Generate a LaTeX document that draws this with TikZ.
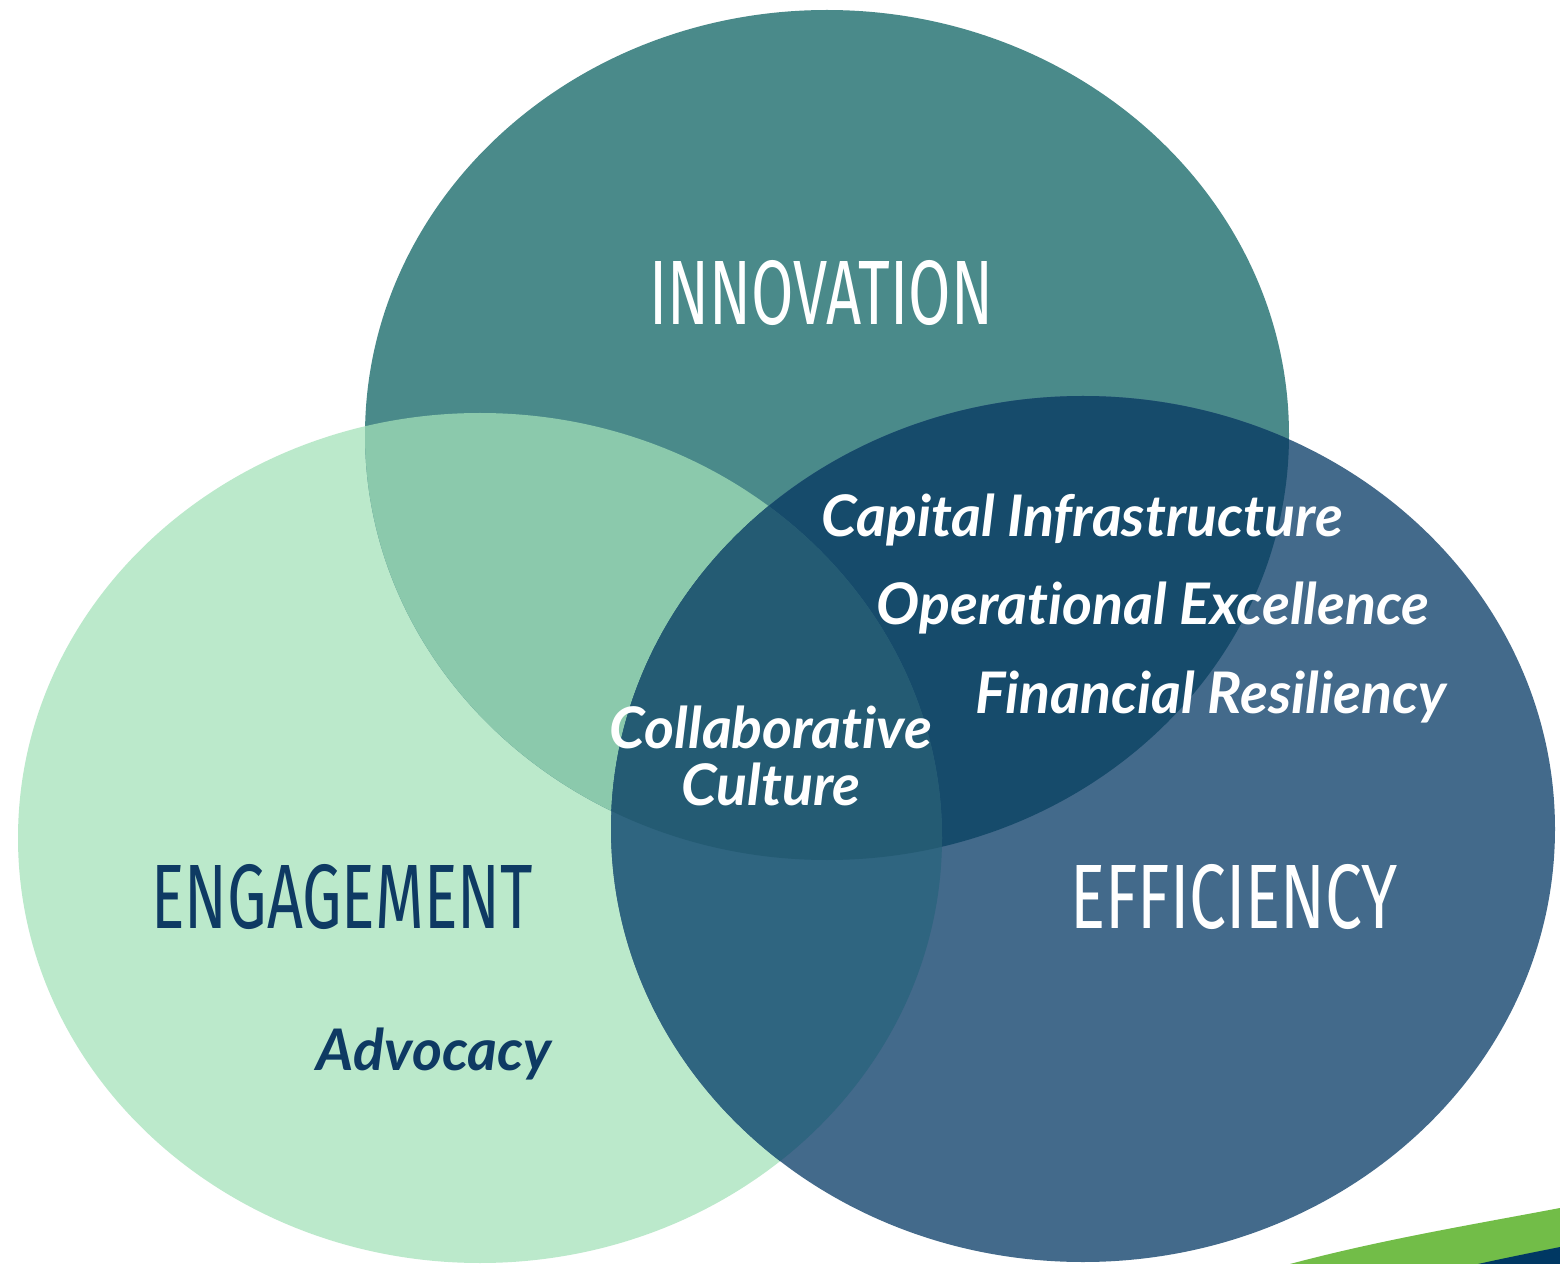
\documentclass[tikz,border=0pt]{standalone}
\usepackage{fontspec}
\setmainfont{Lato}
\newfontfamily\condfont[FakeStretch=0.62]{Fira Sans}
\newfontfamily\itfont[Ligatures=NoCommon]{Lato}
\definecolor{engC}{HTML}{BBE9CB}
\definecolor{innC}{HTML}{4A8A8A}
\definecolor{effC}{HTML}{436A8B}
\definecolor{eiC}{HTML}{8BC9AC}
\definecolor{ifC}{HTML}{164B6B}
\definecolor{efC}{HTML}{2F6580}
\definecolor{allC}{HTML}{245B73}
\definecolor{navy}{HTML}{0E3A63}
\definecolor{stripG}{HTML}{72BD48}
\definecolor{stripB}{HTML}{003863}
\tikzset{
  biglabel/.style={font=\condfont\fontsize{26}{28}\selectfont, inner sep=0pt},
  item/.style={font=\itfont\bfseries\itshape\fontsize{16.3}{16.2}\selectfont, inner sep=0pt, text=white},
}
\def\engE{(480,838) ellipse [x radius=462, y radius=425]}
\def\innE{(827,435) ellipse [x radius=462, y radius=425]}
\def\effE{(1083,829) ellipse [x radius=472, y radius=433]}
\begin{document}
\begin{tikzpicture}[x=0.01cm,y=-0.01cm]
\useasboundingbox (0,0) rectangle (1560,1264);
\clip (0,0) rectangle (1560,1264);
\fill[white] (0,0) rectangle (1560,1264);
% stripe
\fill[stripG] (1290,1264) .. controls (1380,1240) and (1470,1225) .. (1560,1208) -- (1560,1264) -- cycle;
\fill[stripB] (1478,1264) .. controls (1505,1258) and (1530,1253) .. (1560,1247) -- (1560,1264) -- cycle;
% circles
\fill[engC] \engE;
\fill[innC] \innE;
\fill[effC] \effE;
\begin{scope}\clip \engE; \fill[eiC] \innE; \end{scope}
\begin{scope}\clip \innE; \fill[ifC] \effE; \end{scope}
\begin{scope}\clip \engE; \fill[efC] \effE; \end{scope}
\begin{scope}\clip \engE; \clip \innE; \fill[allC] \effE; \end{scope}
% labels
\node[biglabel, text=white] (inn) at (821,293) {\scalebox{1.083}[1]{INNOVATION}};
\node[biglabel, text=navy] (eng) at (342,897) {\scalebox{1.105}[1]{ENGAGEMENT}};
\node[biglabel, text=white] (eff) at (1234,897) {\scalebox{1.16}[1]{EFFICIENCY}};
\node[item] (cap1) at (1082,520) {Capital Infrastructure};
\node[item] (ope) at (1153,608) {Operational Excellence};
\node[item] (fin) at (1211,697) {Financial Resiliency};
\node[item, align=center] (col) at (771,756) {Collaborative\\Culture};
\node[item, text=navy] (adv) at (434,1054) {Advocacy};
\end{tikzpicture}
\end{document}
